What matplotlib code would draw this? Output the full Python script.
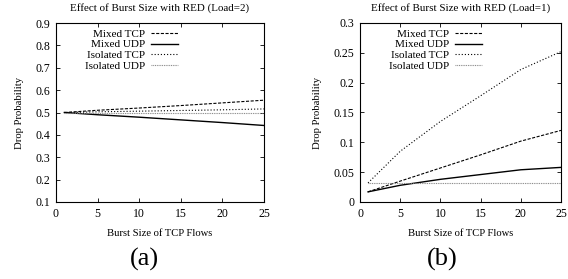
import matplotlib
matplotlib.use("Agg")
import matplotlib.pyplot as plt

x = [1, 5, 10, 15, 20, 25]

# Panel (a): Load=2
a_mixed_tcp = [0.500, 0.510, 0.520, 0.531, 0.543, 0.555]
a_mixed_udp = [0.500, 0.490, 0.479, 0.467, 0.455, 0.442]
a_iso_tcp = [0.500, 0.503, 0.506, 0.509, 0.512, 0.516]
a_iso_udp = [0.500, 0.500, 0.500, 0.500, 0.500, 0.500]

# Panel (b): Load=1
b_mixed_tcp = [0.017, 0.035, 0.057, 0.079, 0.102, 0.120]
b_mixed_udp = [0.017, 0.028, 0.038, 0.046, 0.054, 0.058]
b_iso_tcp = [0.032, 0.085, 0.135, 0.178, 0.222, 0.252]
b_iso_udp = [0.032, 0.032, 0.032, 0.032, 0.032, 0.032]

labels = ["Mixed TCP", "Mixed UDP", "Isolated TCP", "Isolated UDP"]
titles = ["Effect of Burst Size with RED (Load=2)", "Effect of Burst Size with RED (Load=1)"]
panel_labels = ["(a)", "(b)"]
a_yticks = [0.1, 0.2, 0.3, 0.4, 0.5, 0.6, 0.7, 0.8, 0.9]
b_yticks = [0, 0.05, 0.1, 0.15, 0.2, 0.25, 0.3]
xticks = [0, 5, 10, 15, 20, 25]

plt.rcParams['font.family'] = ['Liberation Serif', 'DejaVu Serif']
W, H = 568, 279
fig = plt.figure(figsize=(W / 100, H / 100), dpi=100)

styles = [
    dict(color='black', lw=0.8, ls=(0, (2.8, 1.4))),
    dict(color='black', lw=1.0, ls='-'),
    dict(color='black', lw=0.8, ls=(0, (1.0, 1.8))),
    dict(color='#808080', lw=0.8, ls=(0, (0.8, 0.8))),
]

def panel(rect, series, yticks, ylim, title, plabel, plabel_x, yfmt, leg_x):
    ax = fig.add_axes([rect[0] / W, 1 - rect[3] / H, (rect[2] - rect[0]) / W, (rect[3] - rect[1]) / H])
    for s, lab, st in zip(series, labels, styles):
        ax.plot(x, s, label=lab, **st)
    ax.set_xlim(0, 25)
    ax.set_ylim(*ylim)
    ax.set_xticks(xticks)
    ax.set_yticks(yticks)
    ax.set_yticklabels([yfmt(v) for v in yticks])
    ax.tick_params(direction='in', top=True, right=True, labelsize=8.5, length=3, width=0.6, pad=4)
    for sp in ax.spines.values():
        sp.set_linewidth(0.8)
    ax.set_title(title, fontsize=7.9, pad=9)
    ax.set_xlabel("Burst Size of TCP Flows", fontsize=7.7, labelpad=7)
    ax.set_ylabel("Drop Probability", fontsize=7.7, labelpad=8)
    leg = ax.legend(loc='upper right', bbox_to_anchor=(leg_x, 0.968), frameon=False, markerfirst=False,
                    fontsize=8, handlelength=2.4, handletextpad=0.55, labelspacing=0.1,
                    borderaxespad=0.0, borderpad=0.0)
    for t in leg.get_texts():
        t.set_ha('right')
    fig.text(plabel_x / W, 1 - 259 / H, plabel, ha='center', va='center', fontsize=19)
    return ax

def fmt_a(v):
    return f"{v:.1f}"

def fmt_b(v):
    return "0" if v == 0 else f"{v:g}"

panel((56, 23, 264, 202), [a_mixed_tcp, a_mixed_udp, a_iso_tcp, a_iso_udp], a_yticks, (0.1, 0.9),
      titles[0], panel_labels[0], 144, fmt_a, 0.587)
panel((360, 23, 561, 202), [b_mixed_tcp, b_mixed_udp, b_iso_tcp, b_iso_udp], b_yticks, (0, 0.3),
      titles[1], panel_labels[1], 442, fmt_b, 0.607)

fig.savefig("out.png", dpi=100)
